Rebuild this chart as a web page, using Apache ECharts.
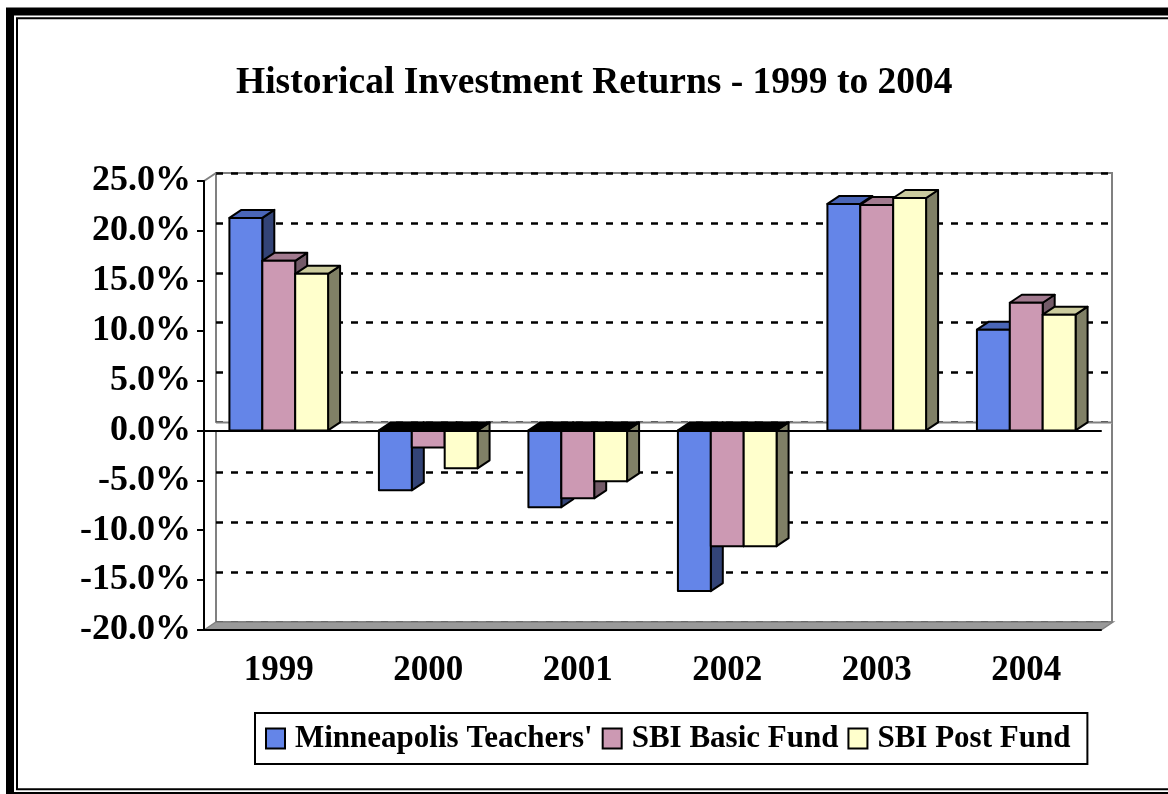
<!DOCTYPE html>
<html>
<head>
<meta charset="utf-8">
<script src="https://cdn.jsdelivr.net/npm/echarts@6/dist/echarts.min.js"></script>
<style>
  html, body { margin: 0; padding: 0; background: #fff; }
  #chart1 { width: 1168px; height: 794px; }
</style>
</head>
<body>
<div id="chart1"></div>
<script>
var years = ['1999', '2000', '2001', '2002', '2003', '2004'];
var minneapolis = [21.3, -6.0, -7.7, -16.1, 22.7, 10.1];
var sbiBasic = [17.0, -1.7, -6.8, -11.6, 22.6, 12.8];
var sbiPost = [15.7, -3.8, -5.1, -11.6, 23.3, 11.6];
var seriesNames = ["Minneapolis Teachers'", 'SBI Basic Fund', 'SBI Post Fund'];
var yTicks = [-20, 25, 5]; // min, max, interval

var FONT = '"Liberation Serif", "Times New Roman", serif';
var DX = 12, DY = -8;      // 3D depth offset
var BAR_RATIO = 0.22;      // bar width / category width
var colors = [
    {front: '#6485e8', top: '#4a66b8', side: '#334477'},
    {front: '#cc99b3', top: '#a27a8f', side: '#735a68'},
    {front: '#ffffcc', top: '#cccc9e', side: '#808066'}
];

function toPairs(arr) {
    return arr.map(function (v, i) { return [i, v]; });
}

// 3D column: side face, top face, then front face
function barRenderer(idx) {
    var c = colors[idx];
    return function (params, api) {
        var cat = api.value(0), val = api.value(1);
        var band = api.size([1, 0])[0];
        var bw = band * BAR_RATIO;
        var base = api.coord([cat, 0]);
        var end = api.coord([cat, val]);
        var x0 = base[0] - 1.5 * bw + idx * bw, x1 = x0 + bw;
        var top = Math.min(base[1], end[1]), bot = Math.max(base[1], end[1]);
        var st = {stroke: '#000', lineWidth: 2, lineJoin: 'round'};
        return {
            type: 'group',
            children: [
                {type: 'polygon', shape: {points: [[x1, top], [x1 + DX, top + DY], [x1 + DX, bot + DY], [x1, bot]]},
                    style: Object.assign({fill: c.side}, st)},
                {type: 'polygon', shape: {points: [[x0, top], [x1, top], [x1 + DX, top + DY], [x0 + DX, top + DY]]},
                    style: Object.assign({fill: val >= 0 ? c.top : '#000'}, st)},
                {type: 'rect', shape: {x: x0, y: top, width: bw, height: bot - top},
                    style: Object.assign({fill: c.front}, st)}
            ]
        };
    };
}

// floor, zero plane and wall edges
function planeRenderer(params, api) {
    var cs = params.coordSys;
    var x0 = cs.x, x1 = cs.x + cs.width;
    var yt = cs.y, yf = cs.y + cs.height;
    var yz = api.coord([0, 0])[1];
    return {
        type: 'group',
        children: [
            {type: 'polygon', shape: {points: [[x0, yf], [x0 + DX, yf + DY], [x1 + DX, yf + DY], [x1, yf]]},
                style: {fill: '#999', stroke: '#808080', lineWidth: 1.5}},
            {type: 'polygon', shape: {points: [[x0, yz], [x0 + DX, yz + DY], [x1 + DX, yz + DY], [x1, yz]]},
                style: {fill: '#fff'}},
            {type: 'polyline', shape: {points: [[x0 + DX, yz + DY], [x1 + DX, yz + DY]]},
                style: {stroke: '#808080', lineWidth: 2}},
            {type: 'polyline', shape: {points: [[x0, yt], [x0 + DX, yt + DY]]},
                style: {stroke: '#808080', lineWidth: 2}}
        ]
    };
}

var myChart = echarts.init(document.getElementById('chart1'));

var option = {
    backgroundColor: '#fff',
    animation: false,
    title: {
        text: 'Historical Investment Returns - 1999 to 2004',
        left: 236,
        top: 64,
        padding: 0,
        textStyle: {fontFamily: FONT, fontSize: 37.5, fontWeight: 'bold', color: '#000'}
    },
    legend: {
        data: seriesNames,
        left: 255,
        top: 713,
        padding: [10, 17, 10, 10],
        borderColor: '#000',
        borderWidth: 2,
        icon: 'rect',
        itemWidth: 19,
        itemHeight: 20,
        itemGap: 9,
        itemStyle: {borderColor: '#000', borderWidth: 2},
        textStyle: {fontFamily: FONT, fontSize: 31, fontWeight: 'bold', color: '#000', padding: [0, 0, 0, 5]}
    },
    graphic: [
        {type: 'rect', shape: {x: 10, y: 11.5, width: 1200, height: 784.5},
            style: {fill: 'none', stroke: '#000', lineWidth: 8}, silent: true},
        {type: 'rect', shape: {x: 17, y: 18.3, width: 1200, height: 771},
            style: {fill: 'none', stroke: '#000', lineWidth: 2}, silent: true}
    ],
    grid: [
        {left: 204, top: 181, width: 897, height: 449},
        {left: 204 + DX, top: 181 + DY, width: 896, height: 449, show: true,
            borderColor: '#808080', borderWidth: 2, backgroundColor: 'transparent'}
    ],
    xAxis: [
        {   // bottom axis with labels
            type: 'category', data: years, gridIndex: 0, position: 'bottom', z: 5,
            axisLine: {onZero: false, lineStyle: {color: '#000', width: 2}},
            axisTick: {length: 8, lineStyle: {color: '#000', width: 2}},
            axisLabel: {margin: 23, fontFamily: FONT, fontSize: 35, fontWeight: 'bold', color: '#000'}
        },
        {   // axis line crossing at 0
            type: 'category', data: years, gridIndex: 0, position: 'bottom', z: 5,
            axisLine: {onZero: true, lineStyle: {color: '#000', width: 2}},
            axisTick: {length: 7, lineStyle: {color: '#000', width: 2}},
            axisLabel: {show: false}
        },
        {type: 'category', data: years, gridIndex: 1, show: false}
    ],
    yAxis: [
        {
            type: 'value', gridIndex: 0, min: yTicks[0], max: yTicks[1], interval: yTicks[2], z: 5,
            axisLine: {show: true, lineStyle: {color: '#000', width: 2}},
            axisTick: {show: true, length: 7, lineStyle: {color: '#000', width: 2}},
            splitLine: {show: false},
            axisLabel: {
                margin: 13, fontFamily: FONT, fontSize: 36, fontWeight: 'bold', color: '#000',
                formatter: function (v) { return v.toFixed(1) + '%'; }
            }
        },
        {
            type: 'value', gridIndex: 1, min: yTicks[0], max: yTicks[1], interval: yTicks[2],
            axisLine: {show: false}, axisTick: {show: false}, axisLabel: {show: false},
            splitLine: {show: true, lineStyle: {color: '#000', width: 2.5, type: [7, 8]}}
        }
    ],
    series: [
        {type: 'custom', xAxisIndex: 0, yAxisIndex: 0, z: 1, silent: true,
            renderItem: planeRenderer, data: [[0, 0]]},
        {name: seriesNames[0], type: 'custom', xAxisIndex: 0, yAxisIndex: 0, z: 2,
            itemStyle: {color: colors[0].front}, renderItem: barRenderer(0),
            encode: {x: 0, y: 1}, data: toPairs(minneapolis)},
        {name: seriesNames[1], type: 'custom', xAxisIndex: 0, yAxisIndex: 0, z: 3,
            itemStyle: {color: colors[1].front}, renderItem: barRenderer(1),
            encode: {x: 0, y: 1}, data: toPairs(sbiBasic)},
        {name: seriesNames[2], type: 'custom', xAxisIndex: 0, yAxisIndex: 0, z: 4,
            itemStyle: {color: colors[2].front}, renderItem: barRenderer(2),
            encode: {x: 0, y: 1}, data: toPairs(sbiPost)}
    ]
};

myChart.setOption(option);
</script>
</body>
</html>
